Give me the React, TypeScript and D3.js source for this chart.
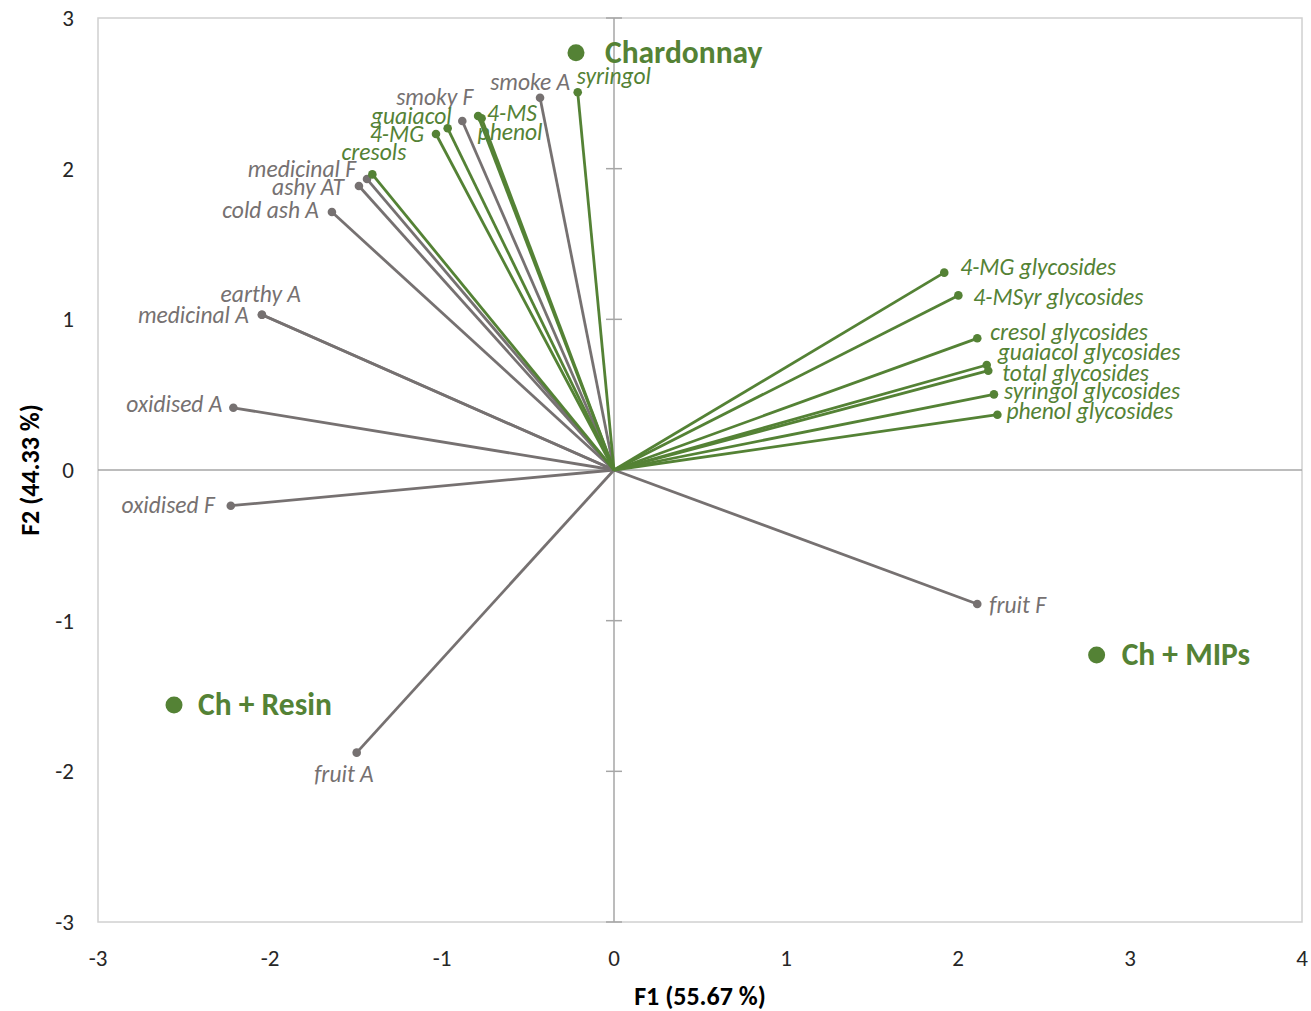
import React from "react";
import * as d3 from "d3";

// Variable loadings (F1, F2)
const sensoryNames = ["smoke A", "smoky F", "medicinal F", "ashy AT", "cold ash A", "earthy A", "medicinal A", "oxidised A", "oxidised F", "fruit A", "fruit F"];
const sensoryF1 = [-0.43, -0.882, -1.436, -1.483, -1.64, -2.047, -2.047, -2.213, -2.228, -1.496, 2.112];
const sensoryF2 = [2.471, 2.316, 1.931, 1.885, 1.712, 1.03, 1.03, 0.413, -0.237, -1.876, -0.889];

const chemNames = ["syringol", "4-MS", "phenol", "guaiacol", "4-MG", "cresols", "4-MG glycosides", "4-MSyr glycosides", "cresol glycosides", "guaiacol glycosides", "total glycosides", "syringol glycosides", "phenol glycosides"];
const chemF1 = [-0.211, -0.79, -0.77, -0.967, -1.035, -1.405, 1.92, 2.002, 2.112, 2.167, 2.176, 2.209, 2.229];
const chemF2 = [2.507, 2.35, 2.335, 2.268, 2.23, 1.962, 1.31, 1.159, 0.874, 0.697, 0.659, 0.502, 0.367];

// Observations
const obsNames = ["Chardonnay", "Ch + MIPs", "Ch + Resin"];
const obsF1 = [-0.221, 2.806, -2.558];
const obsF2 = [2.77, -1.228, -1.56];

const xTicks = [-3, -2, -1, 0, 1, 2, 3, 4];
const yTicks = [-3, -2, -1, 0, 1, 2, 3];
const xTitle = "F1 (55.67 %)";
const yTitle = "F2 (44.33 %)";

// label placement (layout only): [dx, dy, anchor]
const labelPos: Record<string, [number, number, string]> = {
  "smoke A": [30, -8, "end"],
  "smoky F": [11, -16, "end"],
  "medicinal F": [-11, -2, "end"],
  "ashy AT": [-15, 9, "end"],
  "cold ash A": [-13, 6, "end"],
  "earthy A": [39, -13, "end"],
  "medicinal A": [-13, 8, "end"],
  "oxidised A": [-11, 4, "end"],
  "oxidised F": [-16, 7, "end"],
  "fruit A": [17, 29, "end"],
  "fruit F": [12, 9, "start"],
  "syringol": [-1, -8, "start"],
  "4-MS": [9, 5, "start"],
  "phenol": [-4, 22, "start"],
  "guaiacol": [4, -4, "end"],
  "4-MG": [-12, 8, "end"],
  "cresols": [34, -14, "end"],
  "4-MG glycosides": [16, 2, "start"],
  "4-MSyr glycosides": [15, 10, "start"],
  "cresol glycosides": [13, 2, "start"],
  "guaiacol glycosides": [11, -5, "start"],
  "total glycosides": [14, 10, "start"],
  "syringol glycosides": [10, 5, "start"],
  "phenol glycosides": [9, 4, "start"],
};
const obsLabelDx = [29, 25, 24];

const GREEN = "#548235";
const GREY = "#767171";
const FONT = "Carlito, Lato, 'Open Sans', sans-serif";

export default function App() {
  const W = 1311, H = 1011;
  const x = d3.scaleLinear().domain([-3, 4]).range([98, 1302]);
  const y = d3.scaleLinear().domain([-3, 3]).range([922, 18]);
  const x0 = x(0), y0 = y(0);

  const vectors = [
    ...sensoryNames.map((n, i) => ({ n, fx: sensoryF1[i], fy: sensoryF2[i], c: GREY })),
    ...chemNames.map((n, i) => ({ n, fx: chemF1[i], fy: chemF2[i], c: GREEN })),
  ];

  return (
    <svg width={W} height={H} style={{ position: "absolute", left: 0, top: 0, background: "#fff" }} fontFamily={FONT}>
      {/* plot frame */}
      <rect x={x(-3)} y={y(3)} width={x(4) - x(-3)} height={y(-3) - y(3)} fill="none" stroke="#d0d0d0" strokeWidth={1.5} />
      {/* zero axes */}
      <line x1={x(-3)} x2={x(4)} y1={y0} y2={y0} stroke="#a6a6a6" strokeWidth={1.5} />
      <line x1={x0} x2={x0} y1={y(3)} y2={y(-3)} stroke="#a6a6a6" strokeWidth={1.5} />
      {yTicks.map((t) => (
        <line key={"yt" + t} x1={x0 - 8} x2={x0 + 8} y1={y(t)} y2={y(t)} stroke="#a6a6a6" strokeWidth={1.5} />
      ))}
      {/* tick labels */}
      {yTicks.map((t) => (
        <text key={"yl" + t} x={74} y={y(t)} dy="0.35em" textAnchor="end" fontSize={23} fill="#262626">{t}</text>
      ))}
      {xTicks.map((t) => (
        <text key={"xl" + t} x={x(t)} y={966} textAnchor="middle" fontSize={23} fill="#262626">{t}</text>
      ))}
      {/* axis titles */}
      <text x={(x(-3) + x(4)) / 2} y={1005} textAnchor="middle" fontSize={26} fontWeight="bold" fill="#000">{xTitle}</text>
      <text transform={`translate(39,${(y(3) + y(-3)) / 2}) rotate(-90)`} textAnchor="middle" fontSize={26} fontWeight="bold" fill="#000">{yTitle}</text>

      {/* vectors */}
      {vectors.map((v) => (
        <g key={v.n}>
          <line x1={x0} y1={y0} x2={x(v.fx)} y2={y(v.fy)} stroke={v.c} strokeWidth={2.8} />
          <circle cx={x(v.fx)} cy={y(v.fy)} r={4.3} fill={v.c} />
        </g>
      ))}
      {vectors.map((v) => {
        const p = labelPos[v.n] || [6, 4, "start"];
        return (
          <text key={"l" + v.n} x={x(v.fx) + p[0]} y={y(v.fy) + p[1]} textAnchor={p[2] as any} fontSize={23.5} fontStyle="italic" fill={v.c}>{v.n}</text>
        );
      })}

      {/* observations */}
      {obsNames.map((n, i) => (
        <g key={n}>
          <circle cx={x(obsF1[i])} cy={y(obsF2[i])} r={8.5} fill={GREEN} />
          <text x={x(obsF1[i]) + obsLabelDx[i]} y={y(obsF2[i]) + 10} fontSize={31.5} fontWeight="bold" fill={GREEN}>{n}</text>
        </g>
      ))}
    </svg>
  );
}
